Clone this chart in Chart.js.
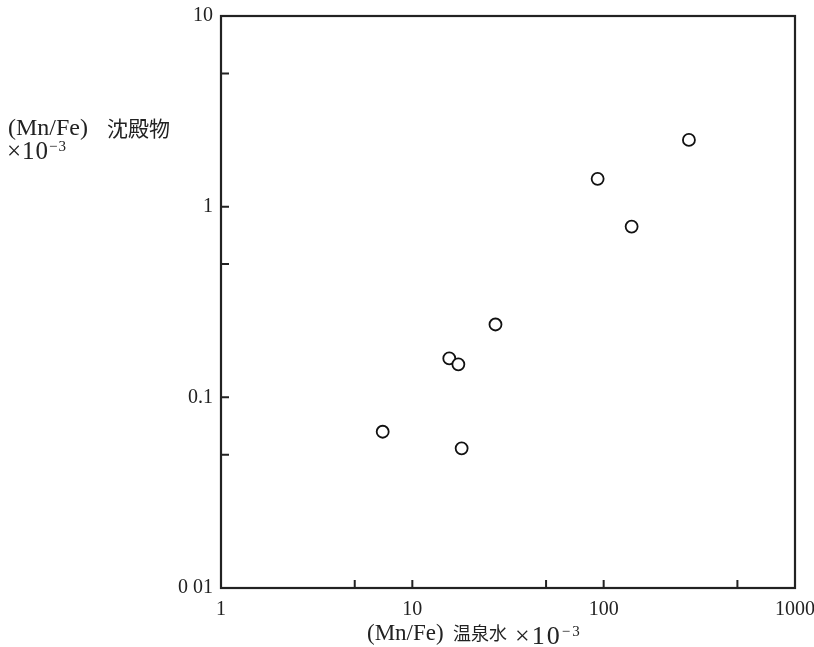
<!DOCTYPE html>
<html>
<head>
<meta charset="utf-8">
<script src="https://cdn.jsdelivr.net/npm/chart.js@4"></script>
<style>
  html, body { margin: 0; padding: 0; background: #fff; overflow: hidden; }
  #wrap { position: relative; width: 814px; height: 647px; }
  canvas { display: block; }
  .lbl { position: absolute; font-family: "Liberation Serif", serif; color: #222; font-size: 23px; line-height: 23px; white-space: nowrap; }
  .cjk { font-family: "Noto Sans CJK JP", sans-serif; font-size: 20px; }
  .lbl sup { font-size: 15px; vertical-align: 8px; }
</style>
</head>
<body>
<div id="wrap">
  <canvas id="chart" width="814" height="647"></canvas>
  <div class="lbl" style="left:8px; top:116px; font-size:24px;">(Mn/Fe)</div>
  <div class="lbl cjk" style="left:107px; top:116px; font-size:21px;">沈殿物</div>
  <div class="lbl" style="left:7px; top:135px; font-size:25px; letter-spacing:1px;">×10<sup>−3</sup></div>
  <div class="lbl" style="left:367px; top:621px;">(Mn/Fe)</div>
  <div class="lbl cjk" style="left:453px; top:621px; font-size:18px;">温泉水</div>
  <div class="lbl" style="left:515px; top:620px; font-size:26px; letter-spacing:2px;">×10<sup>−3</sup></div>
</div>
<script>
// (Mn/Fe) 温泉水 vs 沈殿物, both ×10^-3
const hotSpring = [7.0, 15.6, 17.4, 18.1, 27.2, 93, 140, 279];
const sediment = [0.066, 0.16, 0.149, 0.054, 0.241, 1.40, 0.786, 2.24];

const xMajor = [1, 10, 100, 1000];
const yMajor = [0.01, 0.1, 1, 10];
const xTickLabels = ["1", "10", "100", "1000"];
const yTickLabels = ["0 01", "0.1", "1", "10"];
const xInnerTicks = [5, 10, 50, 100, 500];
const yInnerTicks = [0.05, 0.1, 0.5, 1, 5];

const points = hotSpring.map((v, i) => ({ x: v, y: sediment[i] }));

const tickFont = { family: "Liberation Serif", size: 20 };

// frame + inward ticks
const framePlugin = {
    id: "frame",
    afterDraw(chart) {
        const ctx = chart.ctx;
        const a = chart.chartArea;
        const xs = chart.scales.x, ys = chart.scales.y;
        ctx.save();
        ctx.strokeStyle = "#222";
        ctx.lineWidth = 2.2;
        ctx.strokeRect(a.left, a.top, a.right - a.left, a.bottom - a.top);
        ctx.lineWidth = 2;
        ctx.beginPath();
        xInnerTicks.forEach(v => {
            const px = xs.getPixelForValue(v);
            ctx.moveTo(px, a.bottom);
            ctx.lineTo(px, a.bottom - 8);
        });
        yInnerTicks.forEach(v => {
            const py = ys.getPixelForValue(v);
            ctx.moveTo(a.left, py);
            ctx.lineTo(a.left + 8, py);
        });
        ctx.stroke();
        ctx.restore();
    }
};

new Chart(document.getElementById("chart"), {
    type: "scatter",
    data: {
        datasets: [{
            data: points,
            pointRadius: 6,
            pointBorderWidth: 1.8,
            pointBorderColor: "#111",
            pointBackgroundColor: "#fff",
            pointHoverRadius: 6
        }]
    },
    options: {
        responsive: false,
        animation: false,
        layout: { padding: { left: 0, right: 19, top: 16, bottom: 0 } },
        plugins: { legend: { display: false }, tooltip: { enabled: false } },
        scales: {
            x: {
                type: "logarithmic",
                min: 1,
                max: 1000,
                grid: { display: false, drawTicks: false },
                border: { display: false },
                afterBuildTicks: s => { s.ticks = xMajor.map(v => ({ value: v })); },
                afterFit: s => { s.height = 59; s.paddingLeft = 0; s.paddingRight = 0; },
                ticks: {
                    autoSkip: false,
                    maxRotation: 0,
                    padding: 10,
                    color: "#222",
                    font: tickFont,
                    callback: v => xTickLabels[xMajor.indexOf(v)] ?? ""
                }
            },
            y: {
                type: "logarithmic",
                min: 0.01,
                max: 10,
                grid: { display: false, drawTicks: false },
                border: { display: false },
                afterBuildTicks: s => { s.ticks = yMajor.map(v => ({ value: v })); },
                afterFit: s => { s.width = 221; s.paddingTop = 0; s.paddingBottom = 0; },
                ticks: {
                    autoSkip: false,
                    padding: 8,
                    color: "#222",
                    font: tickFont,
                    callback: v => yTickLabels[yMajor.indexOf(v)] ?? ""
                }
            }
        }
    },
    plugins: [framePlugin]
});
</script>
</body>
</html>
